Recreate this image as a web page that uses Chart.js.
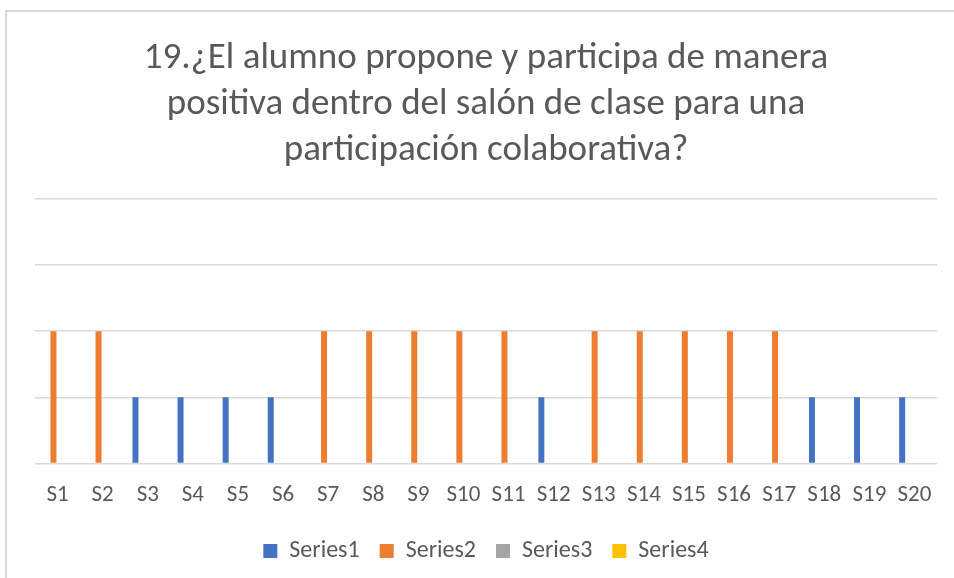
<!DOCTYPE html>
<html>
<head>
<meta charset="utf-8">
<script src="https://cdn.jsdelivr.net/npm/chart.js@4/dist/chart.umd.min.js"></script>
<style>
  html, body { margin: 0; padding: 0; background: #fff; overflow: hidden; }
  #wrap { position: relative; width: 954px; height: 578px; }
  #frame { position: absolute; left: 5px; top: 10px; width: 1000px; height: 700px;
           border-left: 2px solid #d9d9d9; border-top: 2px solid #d9d9d9; box-sizing: border-box; }
  canvas { position: absolute; left: 0; top: 0; }
</style>
</head>
<body>
<div id="wrap">
  <div id="frame"></div>
  <canvas id="c" width="954" height="578"></canvas>
</div>
<script>
const categories = ["S1","S2","S3","S4","S5","S6","S7","S8","S9","S10","S11","S12","S13","S14","S15","S16","S17","S18","S19","S20"];
const series1 = [null,null,1,1,1,1,null,null,null,null,null,1,null,null,null,null,null,1,1,1];
const series2 = [2,2,null,null,null,null,2,2,2,2,2,null,2,2,2,2,2,null,null,null];
const series3 = [null,null,null,null,null,null,null,null,null,null,null,null,null,null,null,null,null,null,null,null];
const series4 = [null,null,null,null,null,null,null,null,null,null,null,null,null,null,null,null,null,null,null,null];
const seriesNames = ["Series1","Series2","Series3","Series4"];
const titleLines = ["19.¿El alumno propone y participa de manera", "positiva dentro del salón de clase para una", "participación colaborativa?"];
const yTicks = [0,1,2,3,4];

const FONT = "Carlito, Calibri, Lato, 'Open Sans', sans-serif";
const TXT = "#595959";

new Chart(document.getElementById("c"), {
  type: "bar",
  data: {
    labels: categories,
    datasets: [
      { label: seriesNames[0], data: series1, backgroundColor: "#4472c4" },
      { label: seriesNames[1], data: series2, backgroundColor: "#ed7d31" },
      { label: seriesNames[2], data: series3, backgroundColor: "#a5a5a5" },
      { label: seriesNames[3], data: series4, backgroundColor: "#ffc000" }
    ]
  },
  options: {
    responsive: false,
    animation: false,
    devicePixelRatio: 1,
    layout: { padding: { left: 35, right: 17, top: 36, bottom: 5 } },
    datasets: { bar: { categoryPercentage: 0.727, barPercentage: 0.73 } },
    plugins: {
      title: {
        display: true, text: titleLines, color: TXT,
        font: { family: FONT, size: 37, weight: "normal", lineHeight: 1.243 },
        padding: { top: 0, bottom: 25 }
      },
      legend: {
        position: "bottom",
        labels: { color: TXT, font: { family: FONT, size: 24 }, boxWidth: 14, boxHeight: 14, padding: 20 }
      },
      tooltip: { enabled: false }
    },
    scales: {
      x: {
        grid: { display: false },
        border: { display: false },
        ticks: { color: TXT, font: { family: FONT, size: 23 }, maxRotation: 0, autoSkip: false, padding: 10 }
      },
      y: {
        min: yTicks[0], max: yTicks[yTicks.length - 1],
        afterBuildTicks: (s) => { s.ticks = yTicks.map(v => ({ value: v })); },
        grid: { color: "#d9d9d9", lineWidth: 1.5, drawTicks: false },
        border: { display: false },
        ticks: { display: false }
      }
    }
  }
});
</script>
</body>
</html>
